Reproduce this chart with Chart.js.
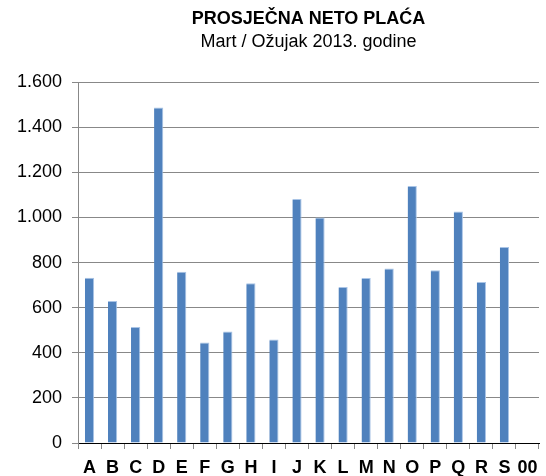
<!DOCTYPE html>
<html><head><meta charset="utf-8">
<script src="https://cdn.jsdelivr.net/npm/chart.js@4"></script>
<style>html,body{margin:0;padding:0;background:#fff;}canvas{display:block;}</style>
</head><body>
<canvas id="c" width="546" height="476"></canvas>
<script>
const categories = ['A','B','C','D','E','F','G','H','I','J','K','L','M','N','O','P','Q','R','S','00'];
const values = [733, 630, 514, 1488, 759, 446, 494, 708, 459, 1082, 1000, 692, 732, 774, 1140, 766, 1027, 714, 869, null];
const yTicks = [0, 200, 400, 600, 800, 1000, 1200, 1400, 1600];
const titleText = 'PROSJEČNA NETO PLAĆA';
const subtitleText = 'Mart / Ožujak 2013. godine';

function fmt(v){ return String(v).replace(/\B(?=(\d{3})+(?!\d))/g, '.'); }

new Chart(document.getElementById('c'), {
  type: 'bar',
  data: { labels: categories, datasets: [{ data: values, backgroundColor: '#4F81BD', borderColor: '#A9C4E6', borderWidth: {left:0,right:1,top:1,bottom:0}, barPercentage: 0.8, categoryPercentage: 0.5 }] },
  options: {
    responsive: false, animation: false,
    layout: { padding: { left: 0, right: 7, bottom: 0, top: 0 } },
    plugins: {
      legend: { display: false }, tooltip: { enabled: false },
      title: { display: true, text: titleText, fullSize: false, color: '#000', font: { family: 'Liberation Sans', size: 18, weight: 'bold', lineHeight: 1.2 }, padding: { top: 8, bottom: 2 } },
      subtitle: { display: true, text: subtitleText, fullSize: false, color: '#000', font: { family: 'Liberation Sans', size: 18, lineHeight: 1.2 }, padding: { top: 0, bottom: 29 } }
    },
    scales: {
      x: {
        grid: { display: true, drawOnChartArea: false, drawTicks: true, tickLength: 6, color: '#888', offset: true },
        border: { color: '#000', width: 1 },
        ticks: { color: '#000', font: { family: 'Liberation Sans', size: 18, weight: 'bold' }, padding: 8, autoSkip: false, maxRotation: 0 },
        afterFit: s => { s.height = 33; }
      },
      y: {
        min: 0, max: 1600,
        afterBuildTicks: s => { s.ticks = yTicks.map(v => ({ value: v })); },
        grid: { color: '#888', tickLength: 6, lineWidth: 1 },
        border: { color: '#888' },
        ticks: { color: '#000', font: { family: 'Liberation Sans', size: 18 }, padding: 10, callback: v => fmt(v) },
        afterFit: s => { s.width = 78; }
      }
    }
  }
});
</script>
</body></html>
